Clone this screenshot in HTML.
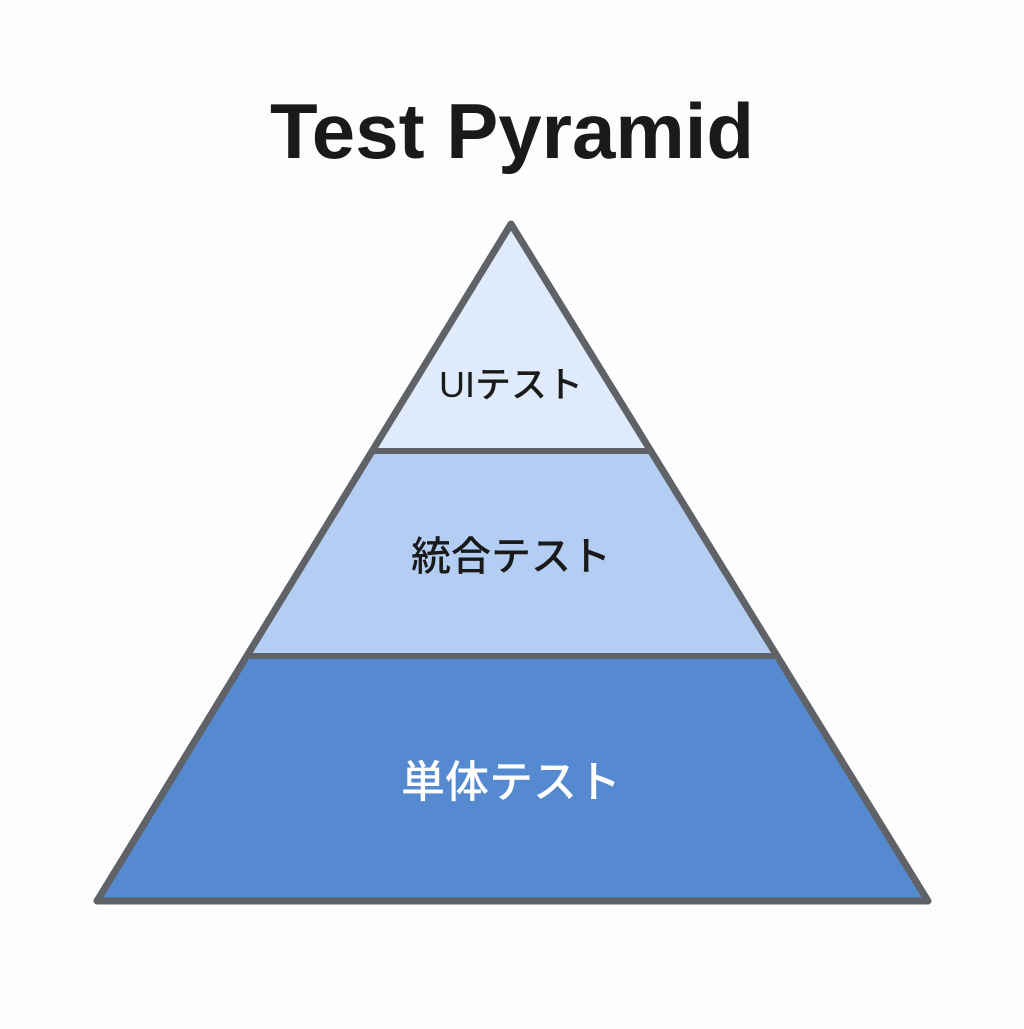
<!DOCTYPE html>
<html><head><meta charset="utf-8"><style>
html,body{margin:0;padding:0;background:#fdfdfd;}
</style></head><body>
<svg width="1024" height="1024" viewBox="0 0 1024 1024" xmlns="http://www.w3.org/2000/svg">
<rect width="1024" height="1024" fill="#fdfdfd"/>
<text x="512" y="158" text-anchor="middle" font-family="Liberation Sans, sans-serif" font-weight="bold" font-size="78" fill="#1a1a1a">Test Pyramid</text>
<polygon points="511,224 372,451 652,451" fill="#dfeafb"/>
<polygon points="372,451 652,451 776,656 247,656" fill="#b3cdf3"/>
<polygon points="247,656 776,656 928,901 97,901" fill="#568ad0"/>
<line x1="372" y1="451" x2="652" y2="451" stroke="#5f6266" stroke-width="6"/>
<line x1="247" y1="656" x2="776" y2="656" stroke="#5f6266" stroke-width="6"/>
<polygon points="511,224 928,901 97,901" fill="none" stroke="#5f6266" stroke-width="7" stroke-linejoin="round"/>
<text x="511" y="397" text-anchor="middle" font-family="Liberation Sans, Noto Sans CJK JP, sans-serif" font-weight="500" font-size="36" fill="#1a1a1a">UIテスト</text>
<text x="511" y="570" text-anchor="middle" font-family="Liberation Sans, Noto Sans CJK JP, sans-serif" font-weight="500" font-size="40" fill="#1a1a1a">統合テスト</text>
<text x="511" y="797" text-anchor="middle" font-family="Liberation Sans, Noto Sans CJK JP, sans-serif" font-weight="500" font-size="44" fill="#ffffff">単体テスト</text>
</svg>
</body></html>
